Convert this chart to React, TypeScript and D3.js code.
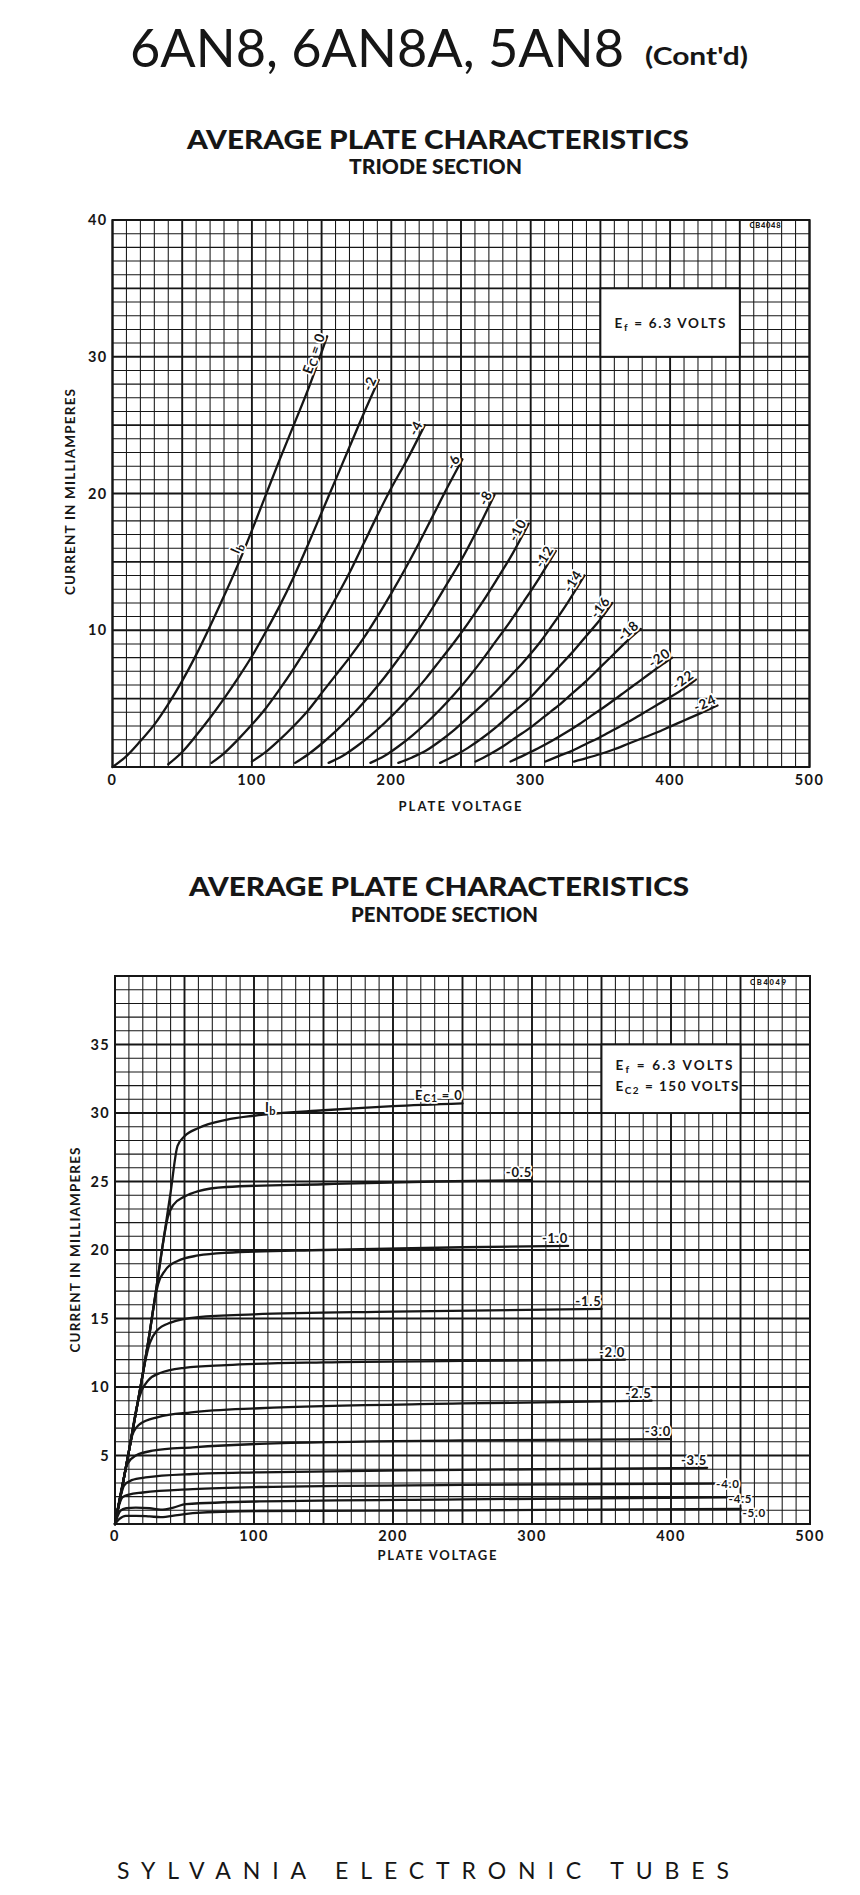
import React, { useEffect, useRef } from "react";
import * as d3 from "d3";

type Pt = [number, number];

// axis ticks
const plateVoltTicks = [0, 100, 200, 300, 400, 500];
const triodeMaTicks = [10, 20, 30, 40];
const pentodeMaTicks = [5, 10, 15, 20, 25, 30, 35];

// triode section, [plate volts, plate mA] per grid bias
const triodeBias = ["0", "-2", "-4", "-6", "-8", "-10", "-12", "-14", "-16", "-18", "-20", "-22", "-24"];
const triodeEc0: Pt[] = [[0, 0], [10, 0.8], [20, 1.9], [30, 3.1], [40, 4.6], [50, 6.3], [60, 8.2], [70, 10.3], [80, 12.5], [90, 14.8], [100, 17.3], [110, 19.9], [120, 22.5], [130, 25.0], [141, 27.8], [154, 31.5]];
const triodeEc2: Pt[] = [[40, 0.2], [50, 1.1], [60, 2.3], [70, 3.6], [80, 5.0], [90, 6.5], [100, 8.1], [110, 9.9], [120, 11.8], [130, 13.9], [140, 16.2], [150, 18.6], [160, 21.0], [170, 23.4], [180, 25.8], [191, 28.3]];
const triodeEc4: Pt[] = [[71, 0.3], [80, 1.0], [90, 2.0], [100, 3.1], [110, 4.3], [120, 5.7], [130, 7.2], [140, 8.8], [150, 10.5], [160, 12.3], [170, 14.2], [180, 16.3], [190, 18.4], [200, 20.4], [212, 22.6], [224, 25.0]];
const triodeEc6: Pt[] = [[100, 0.4], [110, 1.1], [120, 2.0], [130, 3.0], [140, 4.1], [150, 5.4], [160, 6.7], [170, 8.0], [180, 9.4], [190, 11.0], [200, 12.7], [210, 14.5], [220, 16.4], [230, 18.4], [240, 20.4], [251, 22.5]];
const triodeEc8: Pt[] = [[131, 0.3], [140, 0.9], [150, 1.7], [160, 2.6], [170, 3.6], [180, 4.7], [190, 5.9], [200, 7.2], [210, 8.6], [220, 10.1], [230, 11.7], [240, 13.4], [250, 15.1], [262, 17.4], [274, 19.9]];
const triodeEc10: Pt[] = [[155, 0.3], [165, 0.8], [175, 1.5], [185, 2.3], [195, 3.2], [205, 4.2], [215, 5.3], [225, 6.5], [235, 7.8], [245, 9.1], [255, 10.5], [265, 12.0], [275, 13.6], [287, 15.6], [298.6, 17.8]];
const triodeEc12: Pt[] = [[185, 0.3], [195, 0.8], [205, 1.5], [215, 2.3], [225, 3.2], [235, 4.2], [245, 5.3], [255, 6.5], [265, 7.8], [275, 9.2], [285, 10.6], [295, 12.1], [306, 13.8], [318, 15.8]];
const triodeEc14: Pt[] = [[205, 0.3], [215, 0.7], [225, 1.2], [235, 1.9], [245, 2.7], [255, 3.6], [265, 4.5], [275, 5.5], [285, 6.6], [295, 7.7], [305, 8.9], [315, 10.3], [327, 12.1], [338.5, 14.0]];
const triodeEc16: Pt[] = [[235, 0.3], [245, 0.8], [255, 1.4], [265, 2.1], [275, 2.9], [285, 3.8], [300, 5.1], [310, 6.2], [320, 7.3], [330, 8.4], [340, 9.6], [350, 10.8], [358.5, 12.0]];
const triodeEc18: Pt[] = [[260.5, 0.4], [270, 0.9], [280, 1.5], [290, 2.2], [300, 2.9], [310, 3.7], [320, 4.5], [330, 5.4], [340, 6.3], [350, 7.3], [360, 8.3], [370, 9.3], [379, 10.1]];
const triodeEc20: Pt[] = [[285.5, 0.4], [295, 0.85], [305, 1.35], [315, 1.9], [325, 2.5], [335, 3.15], [345, 3.85], [355, 4.55], [365, 5.3], [375, 6.05], [385, 6.8], [395, 7.55], [401.5, 8.0]];
const triodeEc22: Pt[] = [[310.6, 0.4], [320, 0.8], [330, 1.2], [340, 1.7], [350, 2.2], [360, 2.75], [370, 3.3], [380, 3.9], [390, 4.5], [400, 5.1], [410, 5.75], [418.5, 6.4]];
const triodeEc24: Pt[] = [[331, 0.4], [340, 0.65], [350, 0.95], [360, 1.3], [370, 1.7], [380, 2.1], [390, 2.5], [400, 2.95], [410, 3.4], [420, 3.85], [434, 4.5]];
const triodeCurves = [triodeEc0, triodeEc2, triodeEc4, triodeEc6, triodeEc8, triodeEc10, triodeEc12, triodeEc14, triodeEc16, triodeEc18, triodeEc20, triodeEc22, triodeEc24];

// pentode section, Ec2 = 150 V
const pentodeBias = ["0", "-0.5", "-1.0", "-1.5", "-2.0", "-2.5", "-3.0", "-3.5", "-4.0", "-4.5", "-5.0"];
const pentodeEc0: Pt[] = [[0, 0], [5, 2.6], [10, 5.3], [18, 9.8], [25, 14.0], [30, 17.4], [35, 20.8], [40, 24.2], [45, 27.6], [50, 28.3], [60, 28.9], [80, 29.5], [100, 29.8], [150, 30.2], [200, 30.5], [250, 30.7]];
const pentodeEc05: Pt[] = [[0, 0], [5, 2.6], [10, 5.3], [18, 9.8], [25, 14.0], [30, 17.4], [35, 20.8], [38, 22.4], [42, 23.3], [50, 23.9], [60, 24.3], [80, 24.6], [150, 24.8], [230, 25.0], [300, 25.1]];
const pentodeEc10: Pt[] = [[0, 0], [5, 2.6], [10, 5.3], [18, 9.8], [25, 14.0], [28, 16.0], [31, 17.5], [36, 18.5], [45, 19.2], [60, 19.6], [80, 19.8], [150, 20.0], [250, 20.2], [326, 20.3]];
const pentodeEc15: Pt[] = [[0, 0], [5, 2.6], [10, 5.3], [18, 9.8], [22, 12.0], [25, 13.2], [30, 14.1], [40, 14.7], [60, 15.1], [100, 15.3], [200, 15.5], [350, 15.7]];
const pentodeEc20: Pt[] = [[0, 0], [5, 2.6], [10, 5.3], [16, 8.7], [19, 9.7], [24, 10.5], [32, 11.0], [50, 11.4], [80, 11.6], [150, 11.8], [250, 11.9], [367, 12.0]];
const pentodeEc25: Pt[] = [[0, 0], [5, 2.6], [10, 5.3], [12.5, 6.5], [18, 7.3], [31, 7.8], [55, 8.15], [104, 8.45], [250, 8.8], [386, 9.0]];
const pentodeEc30: Pt[] = [[0, 0], [5, 2.7], [9, 4.4], [15, 5.0], [27, 5.35], [56, 5.6], [104, 5.85], [250, 6.1], [400, 6.2]];
const pentodeEc35: Pt[] = [[0, 0], [4, 2.0], [6.5, 2.8], [12, 3.2], [22, 3.4], [56, 3.65], [104, 3.77], [250, 3.95], [426, 4.1]];
const pentodeEc40: Pt[] = [[0, 0], [3, 1.4], [5.3, 1.95], [10, 2.15], [20, 2.3], [56, 2.55], [104, 2.7], [250, 2.85], [431, 2.95]];
const pentodeEc45: Pt[] = [[0, 0], [2, 0.6], [4, 0.97], [8, 1.15], [15, 1.2], [25, 1.15], [33, 1.05], [42, 1.2], [51, 1.45], [104, 1.65], [250, 1.8], [440, 1.95]];
const pentodeEc50: Pt[] = [[0, 0], [3, 0.35], [7.7, 0.6], [15, 0.6], [25, 0.55], [33, 0.5], [45, 0.65], [56, 0.8], [104, 0.95], [250, 1.0], [450, 1.1]];
const pentodeCurves = [pentodeEc0, pentodeEc05, pentodeEc10, pentodeEc15, pentodeEc20, pentodeEc25, pentodeEc30, pentodeEc35, pentodeEc40, pentodeEc45, pentodeEc50];

const INK = "#161616";
const FONT = "Lato, 'Open Sans', sans-serif";

const valueAt = (pts: Pt[], v: number) => {
    const i = d3.bisector((d: Pt) => d[0]).left(pts, v);
    if (i <= 0) return pts[0][1];
    if (i >= pts.length) return pts[pts.length - 1][1];
    const [x0, y0] = pts[i - 1];
    const [x1, y1] = pts[i];
    return y0 + (y1 - y0) * (v - x0) / (x1 - x0);
};

// label with white knock-out behind it, like the printed sheet
const halo = (t: any) => t
    .attr("stroke", "#fff").attr("stroke-width", 3.5)
    .attr("stroke-linejoin", "round").attr("paint-order", "stroke");

const drawPanel = (svg: any, p: any) => {
    const g = svg.append("g");
    const x = d3.scaleLinear().domain([0, 500]).range([p.left, p.right]);
    const y = d3.scaleLinear().domain([0, 40]).range([p.bottom, p.top]);

    // graph paper: 10 V x 1 mA, heavier every 50 V / 5 mA
    g.append("g").selectAll("line").data(d3.range(0, 501, 10)).join("line")
        .attr("x1", (d: number) => x(d)).attr("x2", (d: number) => x(d))
        .attr("y1", y(0)).attr("y2", y(40))
        .attr("stroke", INK).attr("stroke-width", (d: number) => d % 50 === 0 ? 1.9 : 1.05);
    g.append("g").selectAll("line").data(d3.range(0, 41, 1)).join("line")
        .attr("y1", (d: number) => y(d)).attr("y2", (d: number) => y(d))
        .attr("x1", x(0)).attr("x2", x(500))
        .attr("stroke", INK).attr("stroke-width", (d: number) => d % 5 === 0 ? 1.9 : 1.05);
    g.append("rect").attr("x", x(0)).attr("y", y(40))
        .attr("width", x(500) - x(0)).attr("height", y(0) - y(40))
        .attr("fill", "none").attr("stroke", INK).attr("stroke-width", 2);

    // drawing number
    g.append("text").attr("x", x(500) - 60).attr("y", y(40) + p.stampDy)
        .attr("font-family", FONT).attr("font-weight", 900).attr("font-size", 7.5)
        .attr("textLength", p.stampLen).attr("fill", INK).text(p.stamp);

    // conditions box
    g.append("rect").attr("x", x(350)).attr("y", y(35))
        .attr("width", x(450) - x(350)).attr("height", y(30) - y(35))
        .attr("fill", "#fff").attr("stroke", INK).attr("stroke-width", 1.9);
    p.legend.forEach((ln: any) => {
        const t = g.append("text").attr("x", x(350) + 14).attr("y", y(ln.at) + 5)
            .attr("font-family", FONT).attr("font-weight", 700).attr("font-size", 13.5)
            .attr("fill", INK).attr("textLength", ln.len);
        t.append("tspan").text("E");
        t.append("tspan").attr("dy", 3).attr("font-size", 10).text(ln.sub);
        t.append("tspan").attr("dy", -3).text(ln.rest);
    });

    // curves
    const line = d3.line<Pt>().x(d => x(d[0])).y(d => y(d[1])).curve(d3.curveMonotoneX);
    g.append("g").selectAll("path").data(p.curves).join("path")
        .attr("d", line).attr("fill", "none").attr("stroke", INK)
        .attr("stroke-width", 2.3).attr("stroke-linecap", "round");

    // tick labels
    g.append("g").selectAll("text").data(plateVoltTicks).join("text")
        .attr("x", (d: number) => x(d)).attr("y", y(0) + p.xTickDy)
        .attr("text-anchor", "middle").attr("font-family", FONT).attr("font-weight", 700)
        .attr("font-size", 14.5).attr("letter-spacing", 1.4).attr("fill", INK)
        .text((d: number) => d);
    g.append("g").selectAll("text").data(p.yTicks).join("text")
        .attr("x", x(0) - 5).attr("y", (d: number) => y(d) + 5)
        .attr("text-anchor", "end").attr("font-family", FONT).attr("font-weight", 700)
        .attr("font-size", 14.5).attr("letter-spacing", 1.4).attr("fill", INK)
        .text((d: number) => d);

    // axis titles
    g.append("text").attr("x", p.xTitle[0]).attr("y", p.xTitle[1])
        .attr("text-anchor", "middle").attr("font-family", FONT).attr("font-weight", 700)
        .attr("font-size", 13).attr("textLength", p.xTitle[2]).attr("fill", INK)
        .text("PLATE  VOLTAGE");
    g.append("text").attr("transform", `translate(${p.yTitle[0]},${p.yTitle[1]}) rotate(-90)`)
        .attr("text-anchor", "middle").attr("font-family", FONT).attr("font-weight", 700)
        .attr("font-size", 13.5).attr("textLength", p.yTitle[2]).attr("fill", INK)
        .text("CURRENT  IN  MILLIAMPERES");

    return { g, x, y };
};

const App = () => {
    const svgRef = useRef(null);

    useEffect(() => {
        const svg = d3.select(svgRef.current);
        svg.selectAll("*").remove();
        svg.append("rect").attr("width", 860).attr("height", 1895).attr("fill", "#fff");

        // page headings
        const head = (txt: string, x0: number, base: number, size: number, weight: number, len: number) =>
            svg.append("text").attr("x", x0).attr("y", base).attr("font-family", FONT)
                .attr("font-size", size).attr("font-weight", weight).attr("fill", INK)
                .attr("textLength", len).attr("lengthAdjust", "spacingAndGlyphs").text(txt);
        head("6AN8, 6AN8A, 5AN8", 130, 66.5, 52, 400, 494);
        head("(Cont'd)", 645, 65, 24, 700, 103);
        head("AVERAGE PLATE CHARACTERISTICS", 187, 149, 27, 900, 502);
        head("TRIODE SECTION", 349, 174, 20.5, 900, 173);
        head("AVERAGE PLATE CHARACTERISTICS", 189, 895.5, 27, 900, 500);
        head("PENTODE SECTION", 351, 922, 20.5, 900, 187);
        svg.append("text").attr("x", 117).attr("y", 1879).attr("font-family", FONT)
            .attr("font-size", 23).attr("font-weight", 400).attr("fill", INK)
            .attr("textLength", 612).attr("lengthAdjust", "spacing")
            .text("SYLVANIA ELECTRONIC TUBES");

        // ---- triode
        const tri = drawPanel(svg, {
            left: 112.5, right: 809.5, top: 220, bottom: 767,
            yTicks: triodeMaTicks, curves: triodeCurves,
            stamp: "CB4048", stampDy: 7.5, stampLen: 31,
            legend: [{ at: 32.5, sub: "f", rest: " = 6.3  VOLTS", len: 111 }],
            xTickDy: 18, xTitle: [460, 811, 123], yTitle: [75, 492, 206],
        });
        triodeCurves.forEach((pts, i) => {
            const [v1, c1] = pts[pts.length - 1];
            const v0 = v1 - 12;
            const c0 = valueAt(pts, v0);
            const ang = Math.atan2(tri.y(c1) - tri.y(c0), tri.x(v1) - tri.x(v0)) * 180 / Math.PI;
            const t = tri.g.append("text")
                .attr("transform", `translate(${tri.x(v1) + 1},${tri.y(c1)}) rotate(${ang})`)
                .attr("text-anchor", "end").attr("dy", -3)
                .attr("font-family", FONT).attr("font-weight", 700).attr("font-size", 13.5)
                .attr("letter-spacing", 0.8).attr("fill", INK);
            halo(t);
            if (i === 0) {
                t.append("tspan").text("E");
                t.append("tspan").attr("dy", 2).attr("font-size", 11).text("C");
                t.append("tspan").attr("dy", -2).text(" = " + triodeBias[i]);
            } else {
                t.text(triodeBias[i]);
            }
        });
        {
            const v = 94;
            const c = valueAt(triodeEc0, v);
            const ang = Math.atan2(tri.y(valueAt(triodeEc0, v + 6)) - tri.y(valueAt(triodeEc0, v - 6)), tri.x(v + 6) - tri.x(v - 6)) * 180 / Math.PI;
            const t = tri.g.append("text")
                .attr("transform", `translate(${tri.x(v)},${tri.y(c)}) rotate(${ang})`)
                .attr("text-anchor", "middle").attr("dy", -3)
                .attr("font-family", FONT).attr("font-weight", 700).attr("font-size", 13.5).attr("fill", INK);
            halo(t);
            t.append("tspan").text("I");
            t.append("tspan").attr("dy", 3).attr("font-size", 11).text("b");
        }

        // ---- pentode
        const pen = drawPanel(svg, {
            left: 115, right: 810, top: 976, bottom: 1524,
            yTicks: pentodeMaTicks, curves: pentodeCurves,
            stamp: "CB4049", stampDy: 9, stampLen: 36,
            legend: [
                { at: 33.5, sub: "f", rest: "  = 6.3  VOLTS", len: 117 },
                { at: 32, sub: "C2", rest: " = 150  VOLTS", len: 123 },
            ],
            xTickDy: 17, xTitle: [437, 1560, 119], yTitle: [80, 1250, 205],
        });
        // the three lowest bias labels sit stacked past the line ends
        const sideDy = [4, 5.5, 8];
        pentodeCurves.forEach((pts, i) => {
            const [v1, c1] = pts[pts.length - 1];
            const t = pen.g.append("text")
                .attr("font-family", FONT).attr("font-weight", 700)
                .attr("font-size", i >= 8 ? 11.5 : 13)
                .attr("letter-spacing", 0.8).attr("fill", INK);
            halo(t);
            if (i >= 8) {
                t.attr("x", pen.x(v1) + 2).attr("y", pen.y(c1) + sideDy[i - 8]).attr("text-anchor", "start");
            } else {
                t.attr("x", pen.x(v1)).attr("y", pen.y(c1) - 3).attr("text-anchor", "end");
            }
            if (i === 0) {
                t.append("tspan").text("E");
                t.append("tspan").attr("dy", 2).attr("font-size", 10.5).text("C1");
                t.append("tspan").attr("dy", -2).text(" = " + pentodeBias[i]);
            } else {
                t.text(pentodeBias[i]);
            }
        });
        {
            const v = 108;
            const t = pen.g.append("text").attr("x", pen.x(v)).attr("y", pen.y(valueAt(pentodeEc0, v)) - 3)
                .attr("font-family", FONT).attr("font-weight", 700).attr("font-size", 13.5).attr("fill", INK);
            halo(t);
            t.append("tspan").text("I");
            t.append("tspan").attr("dy", 3).attr("font-size", 11).text("b");
        }
    }, []);

    return (
        <svg ref={svgRef} width={860} height={1895}
             style={{ position: "absolute", left: 0, top: 0, display: "block" }} />
    );
};

export default App;
